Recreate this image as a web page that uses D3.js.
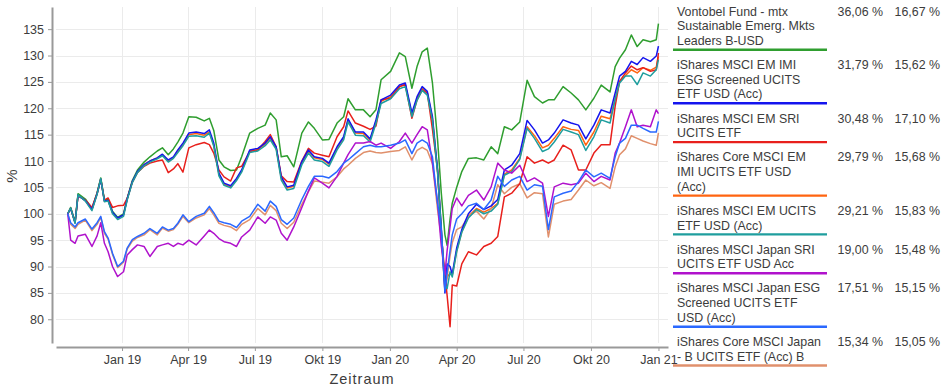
<!DOCTYPE html>
<html>
<head>
<meta charset="utf-8">
<script src="https://cdn.jsdelivr.net/npm/d3@7"></script>
<style>
  body { margin: 0; background: #fff; }
  #chart { width: 945px; height: 389px; }
  text { font-family: "Liberation Sans", Arial, sans-serif; fill: #3c3c3c; }
</style>
</head>
<body>
<div id="chart"></div>
<script>
const dates = [
  "2018-10-19","2018-10-23","2018-10-29","2018-11-02","2018-11-12","2018-11-21","2018-11-28","2018-12-03","2018-12-08","2018-12-13",
  "2018-12-19","2018-12-26","2019-01-03","2019-01-08","2019-01-15","2019-01-22","2019-01-31","2019-02-08","2019-02-18","2019-02-25",
  "2019-03-05","2019-03-12","2019-03-18","2019-03-25","2019-04-02","2019-04-12","2019-04-23","2019-04-30","2019-05-06","2019-05-13",
  "2019-05-20","2019-05-29","2019-06-06","2019-06-13","2019-06-24","2019-07-05","2019-07-15","2019-07-22","2019-07-30","2019-08-06",
  "2019-08-14","2019-08-23","2019-09-03","2019-09-12","2019-09-20","2019-10-01","2019-10-10","2019-10-21","2019-10-30","2019-11-05",
  "2019-11-15","2019-11-26","2019-12-05","2019-12-13","2019-12-20","2020-01-02","2020-01-14","2020-01-22","2020-01-31","2020-02-07",
  "2020-02-14","2020-02-21","2020-02-28","2020-03-06","2020-03-11","2020-03-16","2020-03-19","2020-03-23","2020-03-26","2020-04-01",
  "2020-04-08","2020-04-17","2020-04-28","2020-05-08","2020-05-18","2020-05-27","2020-06-05","2020-06-15","2020-06-26","2020-07-06",
  "2020-07-16","2020-07-27","2020-08-04","2020-08-12","2020-08-24","2020-09-04","2020-09-14","2020-09-24","2020-10-05","2020-10-15",
  "2020-10-27","2020-11-03","2020-11-09","2020-11-17","2020-11-25","2020-12-03","2020-12-11","2020-12-21","2020-12-29","2021-01-01"
];

const vontobel = [
  100,101.2,98.5,103.8,102.8,101,104,106.8,102.6,102.8,100.5,99.3,100,102.9,106.3,
  108.3,109.8,110.8,111.9,112.5,111.2,112.3,113.6,115.3,118.4,118.3,117.6,118.1,
  115.8,110.2,108.9,108.2,108.3,110.8,115.3,116.2,116.8,119.1,117.8,110.8,111,108.9,115.3,117.4,116.2,114,114.1,117.2,118.4,
  121.8,119.7,119.7,118.4,119.7,125.4,127,130.5,129.8,123.8,127.9,130.7,131.4,124.8,
  114,104,96,94,99,102,105,108,110.5,
  110.6,110.2,112.7,111.4,116.5,115.9,117.4,125.3,122.2,121,121.6,121.6,124.1,122.9,
  121.6,119.7,121.9,124.4,123.1,127.9,129.5,131.1,133.9,131.7,133,132.6,133,136.06
];
const emImiEsg = [
  100,101,98.3,103.5,102.5,100.8,103.8,106.5,102.4,102.5,100.3,99.2,99.8,102.8,106.1,
  108,109.3,110,110.6,111.3,110.2,110.8,112.1,113.4,115.3,115.5,115.2,115.9,
  113.4,107.7,105.8,105.3,106.7,108.3,112.1,112.4,113.4,114.6,112.7,107,105.1,105.4,109.9,112.1,110.8,110.5,109.6,112.7,114.6,
  118,115.5,115.5,114.2,117.8,121.6,122.5,124.4,124.8,119.1,122.2,124.1,123.2,118.4,
  108.3,97.5,85,90.5,90,88.5,93.5,97,100,
  101.8,100.8,101.5,102.7,108.3,109.2,111.4,117.7,115.9,113.4,114,115.3,117.8,117.2,
  116.8,114.2,116.8,119.7,119.1,122.9,126.1,127,128.9,128.3,129.6,128.9,129.9,131.79
];
const emSri = [
  100,101,98.4,103.4,102.6,101.2,103.9,106.6,102.6,103,101.2,101.5,101.6,102.9,106,
  107.8,109,109.6,110,110.2,107.8,108.5,109.5,107.9,112.5,113.1,113.5,113.1,
  111.5,108.3,107,106.2,108.7,109,111.8,112.1,113.7,115,112.7,107.2,106.1,106,110,112.4,111.5,111.1,110.8,114.6,116.5,
  119.5,117.2,116.6,116,116.6,121.6,121.9,124.1,124.5,118.1,121.6,123.5,122.9,116,
  108.3,96,88.5,84.5,78.6,86.5,86.3,90.5,92.8,
  92.2,93.8,94.4,95.7,103.2,103.9,105.7,110.8,109.6,110.2,109.6,110.2,113,112.1,
  108.3,108.3,111.5,113.1,113.1,120.4,125.1,126.7,128,127.3,127.7,127,127.3,130.48
];
const coreEmImi = [
  100,101,98.3,103.5,102.5,100.8,103.8,106.5,102.4,102.5,100.2,99.2,99.8,102.8,106,
  108,109.3,110,110.6,111.2,110,110.6,111.9,113.1,115,115.2,114.9,115.5,
  113,107.5,105.6,105.1,106.5,108.1,111.9,112.2,113.2,114.4,112.5,106.8,104.9,105.2,109.7,111.9,110.6,110.3,109.4,112.5,114.4,
  117.8,115.3,115.2,114,117.5,121.3,122.2,124.1,124.5,118.8,121.9,123.8,122.9,118.1,
  107.9,97,86,88,88.7,88.3,93,96.6,99.5,
  101,100.3,101,102,107.5,108.3,110.5,116.5,114.8,112.5,113,114.3,116.5,116,
  115.8,113,115.5,118.5,118,121.8,125,126.2,127.3,126.7,127.7,127.2,127.8,129.79
];
const emUcits = [
  100,101.1,98.2,103.6,102.4,100.6,103.7,106.7,102.3,102.4,100,98.9,99.5,102.6,105.9,
  107.8,109.1,109.8,110.4,111,109.8,110.5,111.6,112.9,114.7,114.8,114.5,115.3,
  112.8,107.2,105.4,104.9,106.3,107.9,111.6,111.9,112.9,114,112.2,106.4,104.5,104.8,109.3,111.5,110.2,109.9,109,112.1,114,
  117.4,114.9,114.8,113.6,117.1,120.9,121.8,123.7,124.1,118.4,121.5,123.4,122.5,117.7,
  107.8,97,86.5,85.8,89,88,92.8,96.5,99.2,
  100.8,100,100.5,101.8,107.3,108,110.3,116.2,114.3,111.8,112.3,113.6,116,115.5,
  115,112,114.6,117.8,117.2,121.7,124.8,126.1,126.1,124.5,126.7,126.1,127.3,129.21
];
const japanSri = [
  100,95,94.4,95.8,96.1,93.8,95.8,98.3,94.4,92.8,90,88.1,89,92.2,93.2,
  94.1,93.8,91.9,93.8,94.1,94.4,93.8,94.4,94.1,95,94.1,95.8,96.9,
  96.3,95.3,94.7,94.4,93.8,95.6,96.9,99.4,98.2,99.4,98.8,96.3,95,97.5,101.2,104.3,106.8,105.8,104.9,107.1,109.6,
  111.2,113.4,113.4,113.7,113,113.4,112.4,113.7,115.3,113.4,115,116.5,115.9,109.6,
  102,94,88.5,93,97.5,101,103,101.5,103.5,
  104.5,102.6,105.1,109.6,108.3,107.7,109.2,106.1,106.8,105.8,99.5,105.1,105.8,105.5,
  105.8,107.7,106.1,107.1,106.4,111.5,113.4,116.5,119.7,116.5,116.8,116.5,119.7,119
];
const japanEsg = [
  100,98.3,97.5,98.3,99,97.1,98.3,99.5,96.6,95.4,92.5,90,91,93.5,95.1,
  95.7,96.3,97.2,96.3,97.5,96.9,97.2,98.2,99.8,98.5,99.5,100.1,101.4,
  100.2,98.6,98.3,98,97.4,98.6,99.5,101.8,100.5,102.4,101.4,98.9,98,99.2,102.7,105.2,107.1,107.1,106.8,108,109.6,
  110.2,111.4,112.7,113,112.7,112.7,113,113.4,114,111.4,113.4,114,113.4,110.8,
  102,97,85.3,89,93,96,99,100,101.5,
  102,100.8,102.6,107.1,105.2,106.4,107.1,104.5,105.5,105.2,97,103.2,103.9,104.3,
  106.1,108.3,107,107.7,106.7,110.8,113.4,114.3,116.8,116.8,116.2,115.5,115.5,117.51
];
const coreJapan = [
  100,98,97.2,98,98.8,96.8,98,99.3,96.3,95.2,92.3,89.8,90.8,93.3,94.8,
  95.5,96,97,96,97.3,96.7,97,98,99.5,98.3,99.2,99.8,101,
  99.8,98.2,97.8,97.5,96.8,98,98.9,101,99.8,101.6,100.6,98.2,97.2,98.4,101.8,104.2,106.2,106,105.8,107,108.5,
  109.2,110.5,111.6,111.9,111.6,111.5,111.8,112,112.7,110.2,112,112.6,112,109.5,
  100.8,95.5,85.5,88,92,94.5,97,97.5,99.5,
  100.5,99,101,105.5,103.8,105,105.7,103,104,103.8,95.6,101.8,102.4,102.7,
  104.5,106.4,105.3,105.9,104.8,108.9,111.2,112.3,114.8,114.3,113.8,113.3,113,115.34
];

const seriesNames = [
  ["Vontobel Fund - mtx", "Sustainable Emerg. Mkts", "Leaders B-USD"],
  ["iShares MSCI EM IMI", "ESG Screened UCITS", "ETF USD (Acc)"],
  ["iShares MSCI EM SRI", "UCITS ETF"],
  ["iShares Core MSCI EM", "IMI UCITS ETF USD", "(Acc)"],
  ["iShares MSCI EM UCITS", "ETF USD (Acc)"],
  ["iShares MSCI Japan SRI", "UCITS ETF USD Acc"],
  ["iShares MSCI Japan ESG", "Screened UCITS ETF", "USD (Acc)"],
  ["iShares Core MSCI Japan", "- B UCITS ETF (Acc) B"]
];
const seriesValues = [vontobel, emImiEsg, emSri, coreEmImi, emUcits, japanSri, japanEsg, coreJapan];
const returnLabels = ["36,06 %", "31,79 %", "30,48 %", "29,79 %", "29,21 %", "19,00 %", "17,51 %", "15,34 %"];
const volLabels = ["16,67 %", "15,62 %", "17,10 %", "15,68 %", "15,83 %", "15,48 %", "15,15 %", "15,05 %"];
const colors = ["#2f9e2f", "#1414ee", "#e8201c", "#ff6410", "#1f9e9e", "#b012cc", "#2a68ff", "#e0906c"];

const xTickDates = ["2019-01-01","2019-04-01","2019-07-01","2019-10-01","2020-01-01","2020-04-01","2020-07-01","2020-10-01","2021-01-01"];
const xTickLabels = ["Jan 19","Apr 19","Jul 19","Okt 19","Jan 20","Apr 20","Jul 20","Okt 20","Jan 21"];
const yTicks = [80, 85, 90, 95, 100, 105, 110, 115, 120, 125, 130, 135];

const parse = d3.timeParse("%Y-%m-%d");
const width = 945, height = 389;

const svg = d3.select("#chart").append("svg")
  .attr("width", width)
  .attr("height", height);

const x = d3.scaleTime()
  .domain([parse("2018-10-03"), parse("2021-01-14")])
  .range([56, 668]);
const y = d3.scaleLinear()
  .domain([75.5, 139.2])
  .range([343, 7]);

// grid
svg.append("g").selectAll("line")
  .data(yTicks)
  .join("line")
  .attr("x1", 56).attr("x2", 668)
  .attr("y1", d => Math.round(y(d)) + 0.5).attr("y2", d => Math.round(y(d)) + 0.5)
  .attr("stroke", "#ebebeb");
svg.append("g").selectAll("line")
  .data(xTickDates)
  .join("line")
  .attr("x1", d => Math.round(x(parse(d))) + 0.5).attr("x2", d => Math.round(x(parse(d))) + 0.5)
  .attr("y1", 7).attr("y2", 343)
  .attr("stroke", "#ebebeb");

// axes
const xAxis = d3.axisBottom(x)
  .tickValues(xTickDates.map(parse))
  .tickFormat((d, i) => xTickLabels[i])
  .tickSizeInner(4).tickSizeOuter(0).tickPadding(4);
const yAxis = d3.axisLeft(y)
  .tickValues(yTicks)
  .tickSizeInner(4).tickSizeOuter(0).tickPadding(4);

const gx = svg.append("g").attr("transform", "translate(0,347)").call(xAxis);
const gy = svg.append("g").attr("transform", "translate(52,0)").call(yAxis);
[gx, gy].forEach(g => {
  g.select(".domain").attr("stroke", "#999").attr("stroke-width", 2);
  g.selectAll(".tick line").attr("stroke", "#999");
  g.selectAll(".tick text")
    .attr("fill", "#3c3c3c")
    .style("font-size", "12.5px")
    .style("font-family", "'Liberation Sans', Arial, sans-serif");
});

svg.append("text")
  .attr("x", 362).attr("y", 384)
  .attr("text-anchor", "middle")
  .style("font-size", "14.5px")
  .style("letter-spacing", "1px")
  .text("Zeitraum");
svg.append("text")
  .attr("transform", "translate(17,176) rotate(-90)")
  .attr("text-anchor", "middle")
  .style("font-size", "15px")
  .text("%");

// lines
const line = d3.line()
  .x((d, i) => x(parse(dates[i])))
  .y(d => y(d));
const drawOrder = [3, 7, 0, 2, 1, 4, 5, 6];
svg.append("g").selectAll("path")
  .data(drawOrder)
  .join("path")
  .attr("d", k => line(seriesValues[k]))
  .attr("fill", "none")
  .attr("stroke", k => colors[k])
  .attr("stroke-width", 1.5)
  .attr("stroke-linejoin", "round");

// legend
const lg = svg.append("g");
const lineH = 14.7;
let yPos = -3.7;
seriesNames.forEach((lines, i) => {
  const first = yPos + lineH;
  lines.forEach((t, j) => {
    lg.append("text")
      .attr("x", 677).attr("y", first + j * lineH + 4.5)
      .style("font-size", "12.4px")
      .text(t);
  });
  lg.append("text")
    .attr("x", 883).attr("y", first + 4.5)
    .attr("text-anchor", "end")
    .style("font-size", "12.4px")
    .text(returnLabels[i]);
  lg.append("text")
    .attr("x", 940).attr("y", first + 4.5)
    .attr("text-anchor", "end")
    .style("font-size", "12.4px")
    .text(volLabels[i]);
  const ul = first + (lines.length - 1) * lineH + 9.4;
  lg.append("line")
    .attr("x1", 673).attr("x2", 827)
    .attr("y1", ul).attr("y2", ul)
    .attr("stroke", colors[i])
    .attr("stroke-width", 2.4);
  yPos = ul;
});
</script>
</body>
</html>
